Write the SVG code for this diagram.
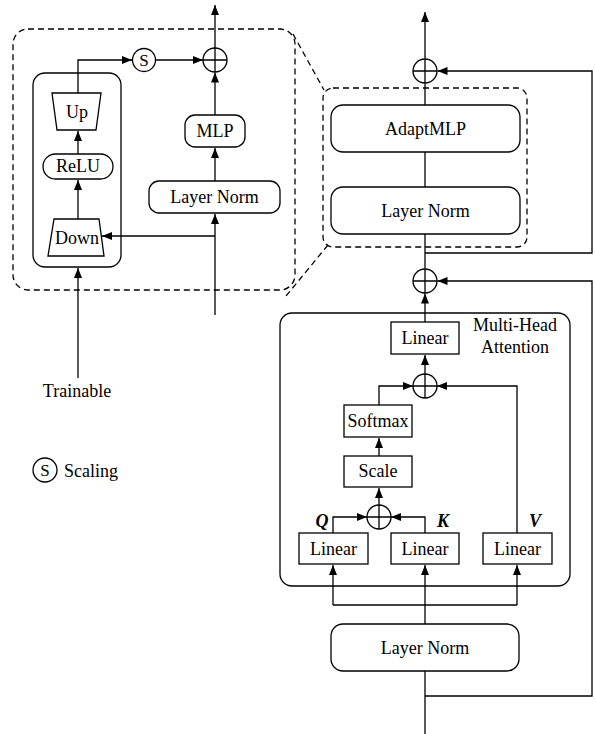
<svg xmlns="http://www.w3.org/2000/svg" width="595" height="734" viewBox="0 0 595 734" font-family="'Liberation Serif', 'Times New Roman', serif">
<defs>
<marker id="ah" markerUnits="userSpaceOnUse" markerWidth="11" markerHeight="9" refX="10" refY="4" orient="auto">
<path d="M0,0 L10,4 L0,8 z" fill="#000"/>
</marker>
<style>
.b{fill:#fff;stroke:#000;stroke-width:1.3}
.d{fill:none;stroke:#000;stroke-width:1.3;stroke-dasharray:6,4}
.c{fill:none;stroke:#000;stroke-width:1.3}
.a{fill:none;stroke:#000;stroke-width:1.3;marker-end:url(#ah)}
text{font-family:"Liberation Serif","Times New Roman",serif;font-size:18px;fill:#000;text-anchor:middle}
.qkv{font-weight:bold;font-style:italic}
</style>
</defs>
<rect width="595" height="734" fill="#fff"/>

<g id="zoom-frame">
<rect class="d" x="13" y="29" width="282" height="261" rx="15"/>
<rect class="d" x="323" y="88" width="204" height="159" rx="10"/>
<line class="d" x1="293" y1="34" x2="324" y2="90"/>
<line class="d" x1="328" y1="245" x2="286" y2="296"/>
</g>

<g id="adapter-box"><rect class="c" x="33" y="73" width="88" height="194" rx="12"/></g>
<g id="mha"><rect class="c" x="280" y="313" width="290" height="273" rx="12"/><text x="515" y="331">Multi-Head</text><text x="515" y="353">Attention</text></g>

<g id="connectors">
<path class="a" d="M78,378 V268"/>
<path class="a" d="M215,315 V214"/>
<path class="a" d="M215,236 H102"/>
<path class="a" d="M78,219 V180"/>
<path class="a" d="M78,154 V131"/>
<path class="a" d="M78,93 V60 H132"/>
<path class="a" d="M155.5,60 H203"/>
<path class="a" d="M215,181 V148"/>
<path class="a" d="M215,115 V72.5"/>
<path class="a" d="M215,48.5 V5"/>

<path class="c" d="M425,734 V671"/>
<path class="a" d="M425,696 H592 V281 H437.5"/>
<path class="a" d="M425,624 V565"/>
<path class="c" d="M333,605 H517"/>
<path class="a" d="M333,605 V565"/>
<path class="a" d="M517,605 V565"/>
<path class="a" d="M333,533 V517 H367"/>
<path class="a" d="M425,533 V517 H391"/>
<path class="a" d="M379,505 V488"/>
<path class="a" d="M379,456 V438"/>
<path class="a" d="M379,405 V386 H413"/>
<path class="a" d="M517,533 V386 H437"/>
<path class="a" d="M425,374 V355"/>
<path class="a" d="M425,322 V293.5"/>
<path class="c" d="M425,268.5 V234"/>
<path class="a" d="M425,253 H592 V71 H437.5"/>
<path class="c" d="M425,187 V152"/>
<path class="c" d="M425,105 V83.5"/>
<path class="a" d="M425,58.5 V12"/>
</g>

<g id="up"><path class="b" d="M52,93 H101 L96,130 H57 Z"/><text x="77" y="118">Up</text></g>
<g id="relu"><rect class="b" x="43" y="154" width="70" height="25" rx="12.5"/><text x="78" y="172">ReLU</text></g>
<g id="down"><path class="b" d="M54,219 H99 L104,256 H48 Z"/><text x="77" y="244">Down</text></g>
<g id="scale-s"><circle class="b" cx="144" cy="60" r="11.5"/><text x="144" y="66" style="font-size:17px">S</text></g>
<g id="add-left"><circle class="b" cx="215" cy="60" r="12"/><path class="c" d="M203,60 H227 M215,48 V72"/></g>
<g id="mlp"><rect class="b" x="185" y="115" width="60" height="32" rx="10"/><text x="215" y="137">MLP</text></g>
<g id="ln-left"><rect class="b" x="149" y="181" width="131" height="32" rx="10"/><text x="214.5" y="203">Layer Norm</text></g>
<g id="trainable"><text x="77" y="397">Trainable</text></g>
<g id="legend"><circle class="b" cx="45" cy="470" r="12"/><text x="45" y="476" style="font-size:17px">S</text><text x="64" y="477" style="text-anchor:start">Scaling</text></g>

<g id="add-top"><circle class="b" cx="425" cy="71" r="12"/><path class="c" d="M413,71 H437 M425,59 V83"/></g>
<g id="adaptmlp"><rect class="b" x="331" y="105" width="189" height="47" rx="12"/><text x="425.5" y="135">AdaptMLP</text></g>
<g id="ln-mid"><rect class="b" x="331" y="187" width="189" height="47" rx="12"/><text x="425.5" y="217">Layer Norm</text></g>
<g id="add-mid"><circle class="b" cx="425" cy="281" r="12"/><path class="c" d="M413,281 H437 M425,269 V293"/></g>

<g id="linear-out"><rect class="b" x="391" y="322" width="68" height="32"/><text x="425" y="344">Linear</text></g>
<g id="add-attn"><circle class="b" cx="425" cy="386" r="12"/><path class="c" d="M413,386 H437 M425,374 V398"/></g>
<g id="softmax"><rect class="b" x="344" y="405" width="68" height="32"/><text x="378" y="427">Softmax</text></g>
<g id="scale"><rect class="b" x="344" y="456" width="68" height="31"/><text x="378" y="477">Scale</text></g>
<g id="add-qk"><circle class="b" cx="379" cy="517" r="12"/><path class="c" d="M367,517 H391 M379,505 V529"/></g>
<g id="linear-q"><rect class="b" x="299" y="533" width="69" height="31"/><text x="333.5" y="555">Linear</text><text class="qkv" x="322" y="527">Q</text></g>
<g id="linear-k"><rect class="b" x="391" y="533" width="68" height="31"/><text x="425" y="555">Linear</text><text class="qkv" x="443" y="527">K</text></g>
<g id="linear-v"><rect class="b" x="483" y="533" width="69" height="31"/><text x="517.5" y="555">Linear</text><text class="qkv" x="535" y="527">V</text></g>
<g id="ln-bottom"><rect class="b" x="331" y="624" width="188" height="47" rx="12"/><text x="425" y="654">Layer Norm</text></g>
</svg>
